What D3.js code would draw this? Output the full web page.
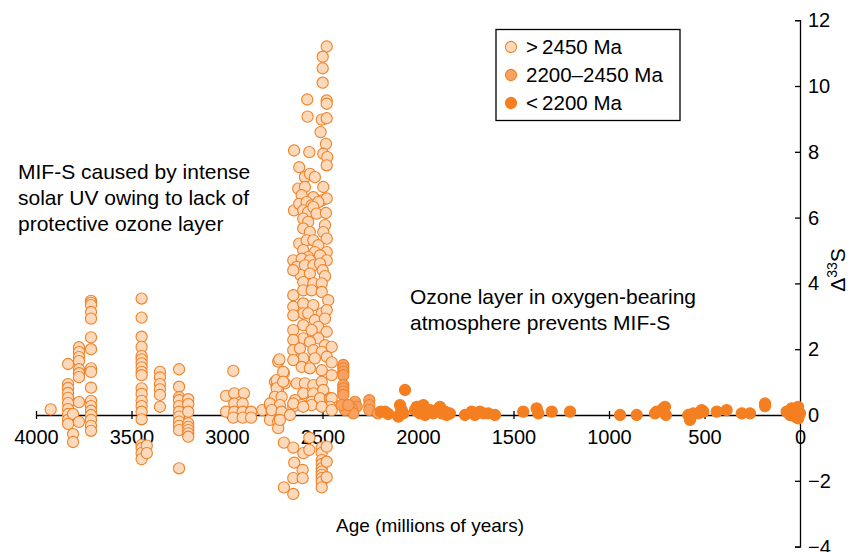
<!DOCTYPE html>
<html>
<head>
<meta charset="utf-8">
<script src="https://cdn.jsdelivr.net/npm/d3@7"></script>
<style>
  html, body { margin: 0; padding: 0; background: #fff; }
  svg { display: block; font-family: "Liberation Sans", Arial, Helvetica, sans-serif; }
</style>
</head>
<body>
<svg id="chart" width="863" height="552"></svg>
<script>
// ---------- DATA (age in Ma, Δ33S in ‰) ----------
const xTicks = [4000, 3500, 3000, 2500, 2000, 1500, 1000, 500, 0];
const yTicks = [-4, -2, 0, 2, 4, 6, 8, 10, 12];
const legendLabels = [">\u20092450 Ma", "2200\u20132450 Ma", "<\u20092200 Ma"];
const xTitle = "Age (millions of years)";
const leftNote = ["MIF-S caused by intense", "solar UV owing to lack of", "protective ozone layer"];
const rightNote = ["Ozone layer in oxygen-bearing", "atmosphere prevents MIF-S"];

// > 2450 Ma
const olderThan2450 = [
  [3923, 0.17],
  [3832, 1.55], [3832, 0.94], [3832, 0.82], [3832, 0.67], [3832, 0.52], [3832, 0.36], [3832, 0.18], [3832, 0.03], [3832, -0.15], [3832, -0.27],
  [3806, 0.03], [3806, -0.58], [3806, -0.82],
  [3775, 2.06], [3775, 1.91], [3775, 1.76], [3775, 1.64], [3775, 1.39], [3775, 1.27], [3775, 1.15], [3775, 0.39], [3775, -0.21],
  [3712, 3.47], [3712, 3.41], [3712, 3.34], [3712, 3.13], [3712, 2.93], [3712, 2.36], [3712, 2.00], [3712, 1.42], [3712, 1.31], [3712, 0.83],
  [3712, 0.43], [3712, 0.27], [3712, 0.13], [3712, 0.00], [3712, -0.15], [3712, -0.33], [3712, -0.48],
  [3447, 3.54], [3447, 2.96], [3447, 2.38], [3447, 2.07], [3447, 1.79], [3447, 1.69], [3447, 1.57], [3447, 1.45], [3447, 1.31], [3447, 1.21],
  [3447, 0.81], [3447, 0.64], [3447, 0.43], [3447, 0.27], [3447, 0.10], [3447, -0.13], [3447, -0.91], [3447, -1.01], [3447, -1.16], [3447, -1.34],
  [3420, -0.93], [3420, -1.16],
  [3351, 1.31], [3351, 1.14], [3351, 0.94], [3351, 0.78], [3351, 0.61], [3351, 0.25],
  [3251, 1.39], [3251, 0.86], [3251, 0.54], [3251, 0.45], [3251, 0.27], [3251, 0.10], [3251, -0.05], [3251, -0.20], [3251, -0.33], [3251, -0.46], [3251, -1.62],
  [3203, 0.48], [3203, 0.33], [3203, 0.10], [3203, -0.25], [3203, -0.36], [3203, -0.46], [3203, -0.56], [3203, -0.66],
  [2967, 1.34], [3005, 0.58], [2962, 0.66], [2911, 0.66], [2962, 0.35], [2918, 0.35], [3005, 0.10], [2962, 0.10], [2918, 0.10], [2874, 0.10],
  [2967, -0.08], [2918, -0.08], [2874, -0.08],
  [2815, 0.15], [2775, 0.30], [2766, 0.10], [2775, -0.15], [2749, 1.01], [2740, 0.86], [2732, 0.71], [2749, 0.55], [2732, 0.15], [2732, -0.20], [2732, -0.40], [2732, 1.62],
  [2478, 11.20], [2499, 10.89], [2499, 10.54], [2499, 10.10], [2580, 9.59], [2478, 9.56], [2478, 9.46], [2578, 9.07], [2504, 8.98], [2478, 9.02], [2510, 8.60], [2482, 8.24],
  [2649, 8.04], [2569, 7.99], [2496, 7.94], [2475, 7.84], [2478, 7.59], [2622, 7.53], [2592, 7.23], [2566, 7.33], [2540, 7.23], [2627, 6.88],
  [2592, 6.93], [2496, 6.93], [2609, 6.68], [2548, 6.62], [2504, 6.52], [2478, 6.58], [2649, 6.22], [2622, 6.42], [2583, 6.47], [2557, 6.37],
  [2522, 6.47], [2601, 6.22], [2575, 6.17], [2548, 6.32], [2531, 6.12], [2482, 6.14], [2601, 5.97], [2575, 5.87], [2487, 5.77], [2601, 5.67],
  [2566, 5.56], [2496, 5.56], [2478, 5.36], [2622, 5.21], [2583, 5.31], [2548, 5.31], [2522, 5.16], [2601, 5.01], [2540, 4.95], [2478, 4.95],
  [2575, 4.80], [2513, 4.85], [2653, 4.70], [2609, 4.75], [2566, 4.70], [2478, 4.70], [2635, 4.50], [2592, 4.55], [2548, 4.55], [2513, 4.60],
  [2499, 4.40], [2614, 4.25], [2566, 4.30], [2487, 4.22], [2653, 4.40],
  [2601, 4.04], [2548, 4.00], [2504, 4.00], [2653, 3.64], [2601, 3.79], [2557, 3.79], [2504, 3.74], [2470, 3.49], [2653, 3.29], [2601, 3.39],
  [2548, 3.34], [2601, 3.09], [2575, 3.09], [2504, 3.09], [2478, 3.19], [2653, 3.03], [2540, 2.88], [2487, 2.93], [2601, 2.73], [2522, 2.68],
  [2653, 2.58], [2557, 2.58], [2478, 2.53], [2601, 2.33], [2522, 2.33], [2653, 2.28], [2566, 2.22], [2487, 2.12], [2452, 2.07], [2653, 1.97],
  [2618, 2.02], [2548, 1.97], [2504, 1.92], [2601, 1.72], [2540, 1.72], [2653, 1.67], [2478, 1.77], [2726, 1.69], [2452, 1.60],
  [2609, 1.46], [2566, 1.42], [2504, 1.36], [2452, 1.21], [2702, 1.28], [2740, 1.06], [2697, 0.96], [2635, 0.96], [2592, 0.96], [2548, 0.91],
  [2504, 1.01], [2601, 0.66], [2548, 0.66], [2496, 0.76], [2740, 0.81], [2749, 0.55], [2714, 0.55], [2644, 0.45], [2557, 0.40], [2513, 0.51],
  [2461, 0.51], [2452, 0.51], [2775, 0.35], [2723, 0.30], [2609, 0.30], [2557, 0.30], [2653, 0.25], [2461, 0.25],
  [2766, 0.15], [2714, 0.10], [2723, -0.15], [2670, 0.00], [2653, 0.35], [2601, 0.25], [2504, 0.25], [2452, 0.15],
  [2706, 1.31], [2706, 1.01],
  [2702, -0.84], [2653, -0.99], [2600, -1.16], [2569, -1.06], [2569, -0.69], [2648, -1.45], [2604, -1.67], [2653, -1.92], [2604, -1.92],
  [2702, -2.20], [2653, -2.40],
  [2504, -0.99], [2504, -1.15], [2504, -1.37], [2504, -1.49], [2504, -1.62], [2504, -1.72], [2504, -1.82], [2504, -1.92], [2504, -2.03], [2504, -2.20],
  [2478, -0.96], [2478, -1.42], [2478, -1.89]
];

// 2200–2450 Ma
const between2200and2450 = [
  [2391, 1.52], [2391, 1.42], [2391, 1.31], [2391, 1.21], [2391, 0.91], [2391, 0.81], [2391, 0.71], [2391, 0.61],
  [2330, 0.40], [2321, 0.25], [2347, 0.20], [2339, 0.05], [2382, 0.15], [2400, 0.30], [2365, 0.30],
  [2255, 0.45], [2255, 0.30], [2255, 0.15], [2210, 0.05]
];

// < 2200 Ma
const youngerThan2200 = [
  [2195, 0.10], [2173, 0.10], [2156, 0.03], [2094, 0.30], [2085, 0.15], [2094, 0.03], [2103, -0.05], [2016, 0.15], [1998, 0.25], [1972, 0.30],
  [1990, 0.05], [1963, 0.00], [1937, 0.15], [1902, 0.15], [1885, 0.25], [1859, 0.10], [1850, 0.00], [2068, 0.76],
  [2077, 0.05], [2007, 0.25], [1981, 0.15], [1920, 0.05], [1876, 0.05], [1833, 0.05], [1754, 0.00], [1719, 0.10], [1702, 0.00], [1676, 0.10],
  [1658, 0.05], [1632, 0.05], [1597, 0.00], [1449, 0.10], [1379, 0.20], [1370, 0.05], [1300, 0.10], [1204, 0.10], [942, 0.00], [855, 0.00],
  [759, 0.05], [750, 0.10], [716, 0.20], [707, 0.25], [702, 0.00], [585, 0.00], [576, -0.15], [559, 0.05], [532, 0.05], [515, 0.15],
  [506, 0.10], [436, 0.10], [384, 0.15], [305, 0.05], [262, 0.05], [183, 0.35], [183, 0.27], [70, 0.10], [44, 0.20], [17, 0.15],
  [0, 0.05], [52, 0.00], [26, -0.05], [9, -0.10], [35, 0.12], [10, 0.25]
];

// ---------- STYLE ----------
const groupStyles = [
  { fill: "#fdd9bc", stroke: "#f08227" },
  { fill: "#f7a163", stroke: "#f08227" },
  { fill: "#f47f21", stroke: "#f47f21" }
];
const groups = [olderThan2450, between2200and2450, youngerThan2200];

const svg = d3.select("#chart");
svg.append("rect").attr("width", 863).attr("height", 552).attr("fill", "#fff");

const x = d3.scaleLinear().domain([4000, 0]).range([36, 800]);
const y = d3.scaleLinear().domain([-4, 12]).range([546.6, 20.2]);

// x axis (through Δ33S = 0)
const xAxis = svg.append("g")
  .attr("transform", `translate(0,${y(0)})`)
  .call(d3.axisBottom(x).tickValues(xTicks).tickFormat(d3.format("d"))
        .tickSizeInner(4).tickSizeOuter(0).tickPadding(11));
xAxis.selectAll(".tick line").attr("y1", -4).attr("y2", 4).attr("stroke", "#000").attr("stroke-width", 1.3);
xAxis.select(".domain").attr("stroke", "#000").attr("stroke-width", 1.3);
xAxis.selectAll("text").attr("font-size", 20).attr("fill", "#000")
  .attr("font-family", "Liberation Sans, Arial, sans-serif");

// y axis at age 0
const yAxis = svg.append("g")
  .attr("transform", `translate(${x(0)},0)`)
  .call(d3.axisRight(y).tickValues(yTicks).tickFormat(d => d < 0 ? "\u2212" + Math.abs(d) : d)
        .tickSizeInner(-5).tickSizeOuter(-5).tickPadding(8));
yAxis.selectAll(".tick line").attr("stroke", "#000").attr("stroke-width", 1.3);
yAxis.select(".domain").attr("stroke", "#000").attr("stroke-width", 1.3);
yAxis.selectAll("text").attr("font-size", 20).attr("fill", "#000")
  .attr("font-family", "Liberation Sans, Arial, sans-serif");

// points
groups.forEach((g, i) => {
  svg.append("g").selectAll("circle").data(g).join("circle")
    .attr("cx", d => x(d[0]))
    .attr("cy", d => y(d[1]))
    .attr("r", 5.6)
    .attr("fill", groupStyles[i].fill)
    .attr("stroke", groupStyles[i].stroke)
    .attr("stroke-width", 1.1);
});

// y title Δ33S
const yt = svg.append("text")
  .attr("transform", "translate(845,270) rotate(-90)")
  .attr("text-anchor", "middle")
  .attr("font-size", 21).attr("fill", "#000");
yt.append("tspan").text("\u0394");
yt.append("tspan").attr("font-size", 14).attr("dy", -8).text("33");
yt.append("tspan").attr("dy", 8).text("S");

// x title
svg.append("text").attr("x", 430).attr("y", 532).attr("text-anchor", "middle")
  .attr("font-size", 19).attr("fill", "#000").text(xTitle);

// annotations
svg.append("text").attr("font-size", 21).attr("fill", "#000")
  .selectAll("tspan").data(leftNote).join("tspan")
  .attr("x", 18).attr("y", (d, i) => 179 + i * 26).text(d => d);
svg.append("text").attr("font-size", 21).attr("fill", "#000")
  .selectAll("tspan").data(rightNote).join("tspan")
  .attr("x", 410).attr("y", (d, i) => 304 + i * 26).text(d => d);

// legend
const lg = svg.append("g");
lg.append("rect").attr("x", 496).attr("y", 29.5).attr("width", 184).attr("height", 91)
  .attr("fill", "#fff").attr("stroke", "#000").attr("stroke-width", 1.3);
legendLabels.forEach((lab, i) => {
  const cy = 47 + i * 28;
  lg.append("circle").attr("cx", 511).attr("cy", cy).attr("r", 5.6)
    .attr("fill", groupStyles[i].fill).attr("stroke", groupStyles[i].stroke).attr("stroke-width", 1.1);
  lg.append("text").attr("x", 526).attr("y", cy).attr("dy", "0.35em")
    .attr("font-size", 20.5).attr("fill", "#000").text(lab);
});
</script>
</body>
</html>
